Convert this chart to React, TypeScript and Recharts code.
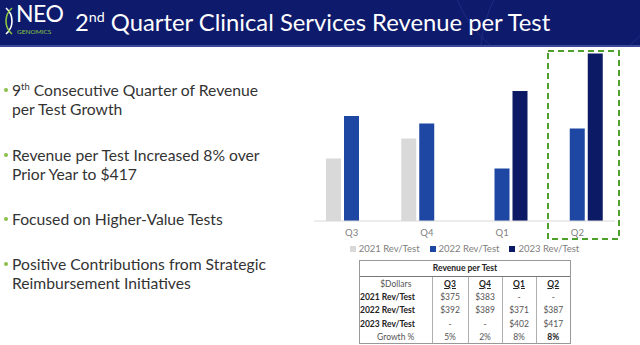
import React from 'react'
import { BarChart, Bar, XAxis, YAxis, Legend } from 'recharts'

// revenue per test by quarter, in dollars (null = no figure for that quarter)
const quarters = ['Q3', 'Q4', 'Q1', 'Q2']
const rev2021 = [375, 383, null, null]
const rev2022 = [392, 389, 371, 387]
const rev2023 = [null, null, 402, 417]
const growth = ['5%', '2%', '8%', '8%']

const seriesNames = ['2021 Rev/Test', '2022 Rev/Test', '2023 Rev/Test']
const seriesColors = ['#d9d9d9', '#1d47a2', '#0c1a66']

const bullets = [
  [<>9<sup style={{ fontSize: '0.6em', lineHeight: 0 }}>th</sup> Consecutive Quarter of Revenue</>, 'per Test Growth'],
  ['Revenue per Test Increased 8% over', 'Prior Year to $417'],
  ['Focused on Higher-Value Tests'],
  ['Positive Contributions from Strategic', 'Reimbursement Initiatives'],
]
const bulletTops = [81, 146, 210, 255]

const chartData = quarters.map((q, i) => ({
  quarter: q,
  r2021: rev2021[i],
  r2022: rev2022[i],
  r2023: rev2023[i],
}))

const font = 'Lato, "Open Sans", sans-serif'

function money(v: number | null) {
  return v == null ? '-' : `$${v}`
}

function LegendRow() {
  return (
    <div style={{ height: 22, display: 'flex', justifyContent: 'center', gap: 10, fontFamily: font, fontSize: 9.5, color: '#808080', lineHeight: '12px', transform: 'translateY(-5px)' }}>
      {seriesNames.map((n, i) => (
        <span key={n} style={{ display: 'flex', alignItems: 'center', gap: 3 }}>
          <span style={{ width: 6, height: 6, background: seriesColors[i], display: 'inline-block' }} />
          {n}
        </span>
      ))}
    </div>
  )
}

function Logo() {
  return (
    <div style={{ position: 'absolute', left: 3, top: 5, width: 62, height: 32 }}>
      <svg width={12} height={30} style={{ position: 'absolute', left: 0, top: 1 }}>
        <path d="M3 2 C11 9, 11 21, 3 28" stroke="#ffffff" strokeWidth={1.6} fill="none" />
        <path d="M9 2 C1 9, 1 21, 9 28" stroke="#8cc63f" strokeWidth={1.6} fill="none" />
      </svg>
      <div style={{ position: 'absolute', left: 13, top: -2, color: '#fff', fontFamily: font, fontSize: 23, letterSpacing: -0.5, lineHeight: '20px' }}>NEO</div>
      <div style={{ position: 'absolute', left: 14, top: 23, color: '#8cc63f', fontFamily: font, fontSize: 6.5, lineHeight: '7px' }}>GENOMICS</div>
    </div>
  )
}

const cell: React.CSSProperties = { padding: 0, textAlign: 'center', height: 13.3, borderLeft: '1px solid #b0b0b0' }
const labelCell: React.CSSProperties = { padding: 0, height: 13.3, fontWeight: 700, color: '#222', textAlign: 'left', whiteSpace: 'nowrap' }

function RevenueTable() {
  return (
    <div style={{ position: 'absolute', left: 359, top: 260, width: 210, border: '1px solid #999', fontFamily: font, fontSize: 8.5, color: '#555', background: '#fff' }}>
      <div style={{ height: 15, borderBottom: '1px solid #777', textAlign: 'center', fontWeight: 700, color: '#222', lineHeight: '15px' }}>Revenue per Test</div>
      <table style={{ width: '100%', borderCollapse: 'collapse', tableLayout: 'fixed' }}>
        <colgroup>
          <col style={{ width: 72 }} />
          <col style={{ width: 36 }} />
          <col style={{ width: 34 }} />
          <col style={{ width: 34 }} />
          <col style={{ width: 34 }} />
        </colgroup>
        <tbody>
          <tr>
            <td style={{ ...labelCell, fontWeight: 400, color: '#555', textAlign: 'center' }}>$Dollars</td>
            {quarters.map(q => (
              <td key={q} style={{ ...cell, fontWeight: 700, color: '#222', textDecoration: 'underline' }}>{q}</td>
            ))}
          </tr>
          {[rev2021, rev2022, rev2023].map((row, r) => (
            <tr key={r}>
              <td style={labelCell}>{seriesNames[r]}</td>
              {row.map((v, i) => (
                <td key={i} style={cell}>{money(v)}</td>
              ))}
            </tr>
          ))}
          <tr>
            <td style={{ ...labelCell, fontWeight: 400, color: '#555', textAlign: 'center' }}>Growth %</td>
            {growth.map((g, i) => (
              <td key={i} style={{ ...cell, fontWeight: i === growth.length - 1 ? 700 : 400, color: i === growth.length - 1 ? '#222' : '#555' }}>{g}</td>
            ))}
          </tr>
        </tbody>
      </table>
    </div>
  )
}

export default function App() {
  return (
    <div style={{ position: 'fixed', left: 0, top: 0, width: 640, height: 345, background: '#fff', overflow: 'hidden' }}>
      {/* title band */}
      <div style={{ position: 'absolute', left: 0, top: 0, width: 640, height: 45, background: '#0e1a6c', borderBottom: '2px solid #3b4a9c' }}>
        <svg width={640} height={45} style={{ position: 'absolute', left: 0, top: 0 }}>
          <circle cx={620} cy={60} r={140} stroke="#1e2c80" strokeWidth={1} fill="none" />
          <circle cx={560} cy={-40} r={110} stroke="#1e2c80" strokeWidth={1} fill="none" />
        </svg>
        <Logo />
        <div style={{ position: 'absolute', left: 75, top: 8, color: '#fff', fontFamily: font, fontSize: 23.8, lineHeight: '28px', whiteSpace: 'nowrap' }}>
          2<sup style={{ fontSize: '0.6em', verticalAlign: '0.6em', lineHeight: 0 }}>nd</sup> Quarter Clinical Services Revenue per Test
        </div>
      </div>

      {/* key points */}
      {bullets.map((lines, i) => (
        <div key={i} style={{ position: 'absolute', left: 12, top: bulletTops[i], fontFamily: font, fontSize: 15.7, lineHeight: '18.5px', color: '#333', whiteSpace: 'nowrap' }}>
          <span style={{ position: 'absolute', left: -8, top: 7, width: 4, height: 4, borderRadius: 2, background: '#8cbf4a' }} />
          {lines.map((l, j) => <div key={j}>{l}</div>)}
        </div>
      ))}

      <div style={{ position: 'absolute', left: 290, top: 40 }}>
        <BarChart width={350} height={230} data={chartData} margin={{ top: 6, right: 25, bottom: 5, left: 24 }} barSize={15} barGap={3}>
          <XAxis dataKey="quarter" height={22} tickLine={false} axisLine={{ stroke: '#d9d9d9' }} tick={{ fill: '#7f7f7f', fontSize: 9.5, fontFamily: font }} />
          <YAxis hide domain={[350, 420]} allowDataOverflow />
          <Legend verticalAlign="bottom" height={22} content={() => <LegendRow />} />
          <Bar dataKey="r2021" name={seriesNames[0]} fill={seriesColors[0]} isAnimationActive={false} />
          <Bar dataKey="r2022" name={seriesNames[1]} fill={seriesColors[1]} isAnimationActive={false} />
          <Bar dataKey="r2023" name={seriesNames[2]} fill={seriesColors[2]} isAnimationActive={false} />
        </BarChart>
      </div>

      {/* highlight around the latest quarter */}
      <svg width={80} height={195} style={{ position: 'absolute', left: 545, top: 48 }}>
        <rect x={3} y={3} width={71} height={188} fill="none" stroke="#4ea02c" strokeWidth={2} strokeDasharray="6 4" />
      </svg>

      <RevenueTable />
    </div>
  )
}
